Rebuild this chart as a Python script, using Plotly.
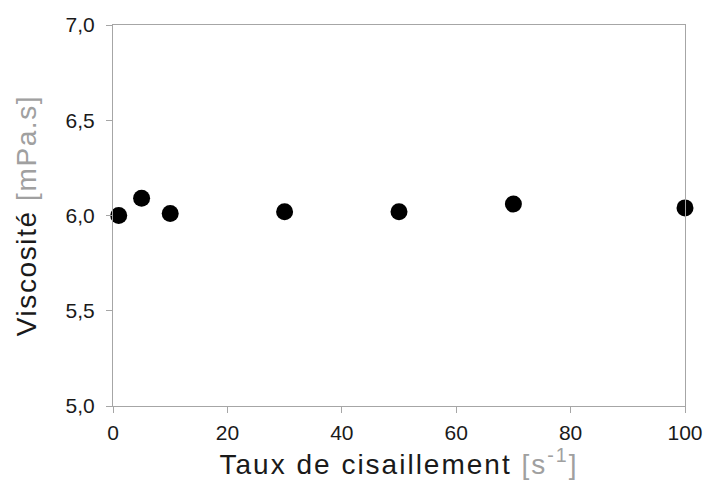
import plotly.graph_objects as go

shear_rate = [1, 5, 10, 30, 50, 70, 100]
viscosity = [6.00, 6.09, 6.01, 6.02, 6.02, 6.06, 6.04]
x_ticks = [0, 20, 40, 60, 80, 100]
y_ticks = [5.0, 5.5, 6.0, 6.5, 7.0]

fig = go.Figure()
fig.add_trace(go.Scatter(
    x=shear_rate, y=viscosity, mode="markers",
    marker=dict(color="black", size=17, line=dict(width=0)),
    cliponaxis=False, showlegend=False, hoverinfo="skip",
))

axis_common = dict(
    showline=True, linecolor="#a6a6a6", linewidth=1, mirror=True,
    showgrid=False, zeroline=False, ticks="outside", ticklen=6,
    tickcolor="#a6a6a6", automargin=False,
    tickfont=dict(family="Liberation Sans, Arial", size=21, color="#1a1a1a"),
)

fig.update_layout(
    width=707, height=490,
    margin=dict(l=113, r=22, t=25, b=84),
    paper_bgcolor="white", plot_bgcolor="white",
    separators=", ",
    font=dict(family="Liberation Sans, Arial", color="#1a1a1a"),
    xaxis=dict(
        range=[0, 100], tickvals=x_ticks, tickformat="d", ticklabelstandoff=2,
        title=dict(text="<span style='letter-spacing:2px'>Taux de cisaillement <span style='color:#a0a0a0'>[s<sup>-1</sup>]</span></span>",
                   font=dict(size=28), standoff=10),
        **axis_common,
    ),
    yaxis=dict(
        range=[5.0, 7.0], tickvals=y_ticks, tickformat=".1f", ticklabelstandoff=7,
        title=dict(text="<span style='letter-spacing:1.6px'>Viscosité <span style='color:#a0a0a0'>[mPa.s]</span></span>",
                   font=dict(size=28), standoff=20),
        **axis_common,
    ),
)

fig.write_html("out.html", config={"displayModeBar": False},
               post_script="document.body.style.margin='0';")
